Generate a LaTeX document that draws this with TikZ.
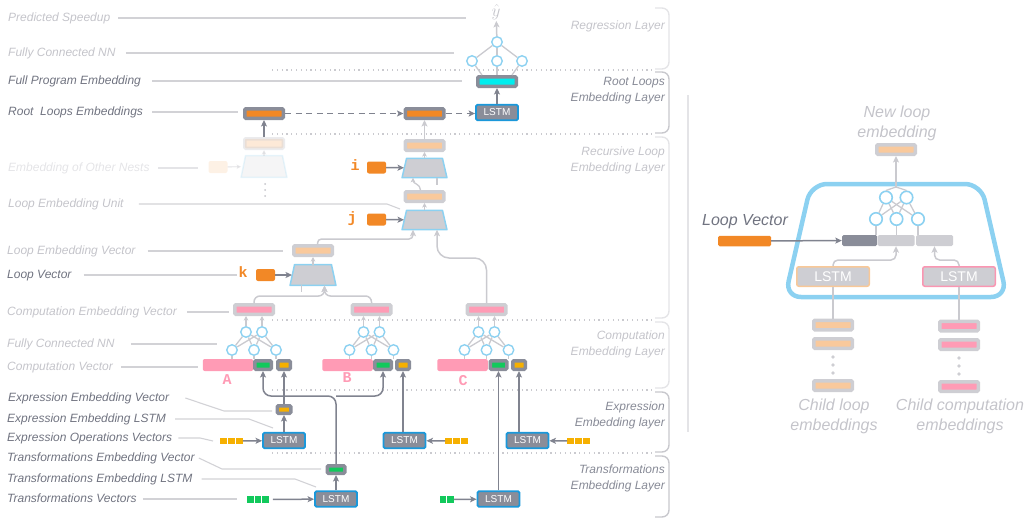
\documentclass[tikz,border=0pt]{standalone}
\usepackage{fontspec}
\setmainfont{Liberation Sans}
\setmonofont{Liberation Mono}
\usetikzlibrary{arrows.meta}

\definecolor{boxdark}{RGB}{138,141,153}
\definecolor{boxlight}{RGB}{206,206,211}
\definecolor{vecorange}{RGB}{242,136,38}
\definecolor{vecpeach}{RGB}{249,201,156}
\definecolor{vecpink}{RGB}{255,155,181}
\definecolor{vecgreen}{RGB}{18,201,92}
\definecolor{vecyellow}{RGB}{246,176,0}
\definecolor{veccyan}{RGB}{0,238,238}
\definecolor{lstmblue}{RGB}{27,152,218}
\definecolor{nnblue}{RGB}{140,209,241}
\definecolor{txtdark}{RGB}{112,115,128}
\definecolor{txtmid}{RGB}{135,138,150}
\definecolor{txtlight}{RGB}{196,196,202}
\definecolor{txtfaint}{RGB}{228,228,231}
\definecolor{leadgray}{RGB}{210,210,214}
\definecolor{arrdark}{RGB}{128,131,143}
\definecolor{arrlight}{RGB}{202,202,207}
\definecolor{brkfaint}{RGB}{228,228,231}
\definecolor{brkdark}{RGB}{200,200,205}
\definecolor{lstmpeach}{RGB}{248,200,152}
\definecolor{lstmpink}{RGB}{250,150,178}

\tikzset{
  emb/.style 2 args={draw=#1, fill=#2, line width=3.5pt, rounded corners=1.2pt,
    minimum width=38.5pt, minimum height=9.5pt, inner sep=0pt},
  subvec/.style 2 args={draw=#1, fill=#2, line width=3.5pt, rounded corners=1pt,
    minimum width=16.5pt, minimum height=8.5pt, inner sep=0pt},
  compvec/.style={fill=vecpink, rounded corners=2pt, minimum width=50.5pt,
    minimum height=12pt, inner sep=0pt},
  loopvec/.style={fill=vecorange, rounded corners=2pt, minimum width=19pt,
    minimum height=12pt, inner sep=0pt},
  lstm/.style={draw=lstmblue, fill=boxdark, line width=1.8pt, rounded corners=1.5pt,
    minimum width=42pt, minimum height=15.5pt, inner sep=0pt, text=white,
    font=\fontsize{10}{12}\selectfont},
  ulstm/.style={draw=#1, fill=boxlight, line width=1.5pt, rounded corners=2pt,
    minimum width=72.5pt, minimum height=19.5pt, inner sep=0pt, text=white,
    font=\fontsize{14}{14}\selectfont},
  neuron/.style={circle, draw=nnblue, fill=white, line width=1.4pt,
    minimum size=10.5pt, inner sep=0pt},
  unit/.style={minimum width=44.5pt, minimum height=19pt, inner sep=0pt},
  unitline/.style={draw=nnblue, fill=boxlight, line width=1.5pt, line join=round},
  opsq/.style={fill=#1, minimum size=6.5pt, inner sep=0pt},
  lbl/.style={anchor=west, inner sep=0pt, text height=8.6pt, text depth=2.5pt,
    font=\fontsize{12}{14}\selectfont\itshape, text=#1},
  lyr/.style={anchor=east, align=right, inner sep=0pt,
    font=\fontsize{12}{16}\selectfont\itshape, text=#1},
  big/.style={align=center, inner sep=0pt,
    font=\fontsize{16}{20}\selectfont\itshape, text=#1},
  ord/.style={inner sep=0pt, text height=9pt, text depth=2.5pt,
    font=\ttfamily\bfseries\fontsize{15}{15}\selectfont, text=#1},
  lead/.style={draw=leadgray, line width=1.1pt},
  lline/.style={draw=arrlight, line width=1.3pt},
  darr/.style={draw=arrdark, line width=1.5pt, -{Stealth[length=6.5pt,width=6pt,inset=1.5pt]}},
  larr/.style={draw=arrlight, line width=1.5pt, -{Stealth[length=6.5pt,width=6pt,inset=1.5pt]}},
  sarr/.style={draw=arrlight, line width=1.3pt, -{Stealth[length=4.5pt,width=4.5pt,inset=1pt]}},
  sep/.style={draw=arrlight, line width=1.2pt, dash pattern=on 1.2pt off 3.6pt},
  brk/.style={draw=#1, line width=1.4pt, rounded corners=7pt},
}

\begin{document}
\begin{tikzpicture}[x=1pt,y=-1pt]
\useasboundingbox (0,0) rectangle (1033,519);

% layers
\foreach \y in {70,134,320,390,453}
  \draw[sep] (272,\y) -- (655,\y);
\draw[brk=brkfaint] (655,8) -- (669,8) -- (669,69) -- (655,69);
\draw[brk=brkdark] (655,72) -- (669,72) -- (669,133) -- (655,133);
\draw[brk=brkfaint] (655,137) -- (669,137) -- (669,318) -- (655,318);
\draw[brk=brkfaint] (655,322) -- (669,322) -- (669,388) -- (655,388);
\draw[brk=brkdark] (655,392) -- (669,392) -- (669,452) -- (655,452);
\draw[brk=brkdark] (655,456) -- (669,456) -- (669,517) -- (655,517);
\draw[draw=brkfaint, line width=1.2pt] (688,95) -- (688,432);

\node[lyr=txtlight] (lreg) at (665,26) {Regression Layer};
\node[lyr=txtmid] (lroot) at (665,91) {Root Loops\\Embedding Layer};
\node[lyr=txtlight] (lrec) at (665,160) {Recursive Loop\\Embedding Layer};
\node[lyr=txtlight] (lcomp) at (665,344) {Computation\\Embedding Layer};
\node[lyr=txtmid] (lexpr) at (665,415) {Expression\\Embedding layer};
\node[lyr=txtmid] (ltrans) at (665,478) {Transformations\\Embedding Layer};

% labels on the left
\node[lbl=txtlight] (tps) at (8,18) {Predicted Speedup};
\node[lbl=txtlight] (tfc) at (8,53) {Fully Connected NN};
\node[lbl=txtdark] (tfpe) at (8,81) {Full Program Embedding};
\node[lbl=txtdark] (trle) at (8,112) {Root\ \ Loops Embeddings};
\node[lbl=txtfaint] (teon) at (8,168) {Embedding of Other Nests};
\node[lbl=txtlight] (tleu) at (8,204) {Loop Embedding Unit};
\node[lbl=txtlight] (tlev) at (7,251) {Loop Embedding Vector};
\node[lbl=txtdark] (tlv) at (7,275) {Loop Vector};
\node[lbl=txtlight] (tcev) at (7,312) {Computation Embedding Vector};
\node[lbl=txtlight] (tcfc) at (7,344) {Fully Connected NN};
\node[lbl=txtlight] (tcv) at (7,367) {Computation Vector};
\node[lbl=txtdark] (teev) at (8,398) {Expression Embedding Vector};
\node[lbl=txtdark] (teel) at (7,419) {Expression Embedding LSTM};
\node[lbl=txtdark] (teov) at (7,438) {Expression Operations Vectors};
\node[lbl=txtdark] (ttev) at (7,458) {Transformations Embedding Vector};
\node[lbl=txtdark] (ttel) at (7,479) {Transformations Embedding LSTM};
\node[lbl=txtdark] (ttv) at (7,499) {Transformations Vectors};

\draw[lead] ([xshift=8pt]tps.east) -- (466,18);
\draw[lead] ([xshift=10pt]tfc.east) -- (454,53);
\draw[lead] ([xshift=11pt]tfpe.east) -- (462,81);
\draw[lead] ([xshift=9pt]trle.east) -- (238,112);
\draw[lead, draw=txtfaint] ([xshift=8pt]teon.east) -- (198,168);
\draw[lead] ([xshift=15pt]tleu.east) -- (387,204) -- (400,209);
\draw[lead] ([xshift=12pt]tlev.east) -- (283,251);
\draw[lead] ([xshift=12pt]tlv.east) -- (237,275);
\draw[lead] ([xshift=10pt]tcev.east) -- (229,312);
\draw[lead] ([xshift=16pt]tcfc.east) -- (217,344);
\draw[lead] ([xshift=8pt]tcv.east) -- (198,367);
\draw[lead] ([xshift=16pt]teev.east) -- (224,411) -- (272,411);
\draw[lead] ([xshift=9pt]teel.east) -- (249,419) -- (273,428);
\draw[lead] ([xshift=6pt]teov.east) -- (200,438) -- (213,441);
\draw[lead] ([xshift=4pt]ttev.east) -- (222,469) -- (321,469);
\draw[lead] ([xshift=9pt]ttel.east) -- (295,479) -- (316,487);
\draw[lead] ([xshift=6pt]ttv.east) -- (237,499);

% regression layer
\node[inner sep=1pt, text=txtlight, font=\fontsize{18}{18}\selectfont] (yhat) at (496,12) {$\hat{y}$};
\node[neuron] (r0) at (497,42) {};
\node[neuron] (r1) at (472,61) {};
\node[neuron] (r2) at (497,61) {};
\node[neuron] (r3) at (522,61) {};
\foreach \n in {r1,r2,r3} \draw[lline] (\n) -- (r0);
\draw[larr] (r0) -- (yhat);

% root loops
\node[emb={boxdark}{veccyan}] (fpe) at (497,81.5) {};
\draw[lline] (r1) -- ([xshift=6pt]fpe.north west);
\draw[lline] (r2) -- (fpe);
\draw[lline] (r3) -- ([xshift=-6pt]fpe.north east);
\node[lstm] (rlstm) at (497,112.5) {LSTM};
\draw[darr] (rlstm) -- (fpe);
\node[emb={boxdark}{vecorange}] (root1) at (264,113.5) {};
\node[emb={boxdark}{vecorange}] (root2) at (424.5,113.5) {};
\draw[darr, line width=1.8pt, dash pattern=on 6pt off 4.5pt] (root1) -- (root2);
\draw[darr, line width=1.8pt, dash pattern=on 6pt off 4.5pt] (root2.east) -- (root2.east -| rlstm.west);

% other nests
\node[emb={boxlight}{vecpeach}, opacity=0.4] (nestout) at (264,143.5) {};
\node[unit, minimum width=45.5pt, minimum height=21.5pt] (nest) at (264,166.5) {};
\filldraw[unitline, opacity=0.2] (nest.south west) -- (nest.south east)
  -- ([xshift=-4.5pt]nest.north east) -- ([xshift=4.5pt]nest.north west) -- cycle;
\node[loopvec, opacity=0.12] (vnest) at (218,167) {};
\draw[sarr, opacity=0.35] (vnest) -- (nest);
\draw[sarr, opacity=0.35] (nest) -- (nestout);
\draw[darr] (nestout) -- (root1);
\foreach \y in {184,190,196} \fill[txtlight] (265,\y) circle (1pt);

% recursive loop embedding
\node[emb={boxlight}{vecpeach}] (iout) at (424.5,145.5) {};
\node[unit] (trapi) at (424.5,168) {};
\node[emb={boxlight}{vecpeach}] (jout) at (424.5,196.5) {};
\node[unit] (trapj) at (424.5,220) {};
\node[emb={boxlight}{vecpeach}] (kout) at (313,250.5) {};
\node[unit, minimum width=45.5pt, minimum height=20.5pt] (trapk) at (313,275) {};
\foreach \u in {trapi,trapj,trapk}
  \filldraw[unitline] (\u.south west) -- (\u.south east)
    -- ([xshift=-4.5pt]\u.north east) -- ([xshift=4.5pt]\u.north west) -- cycle;
\node[loopvec] (vi) at (376.5,167.5) {};
\node[loopvec] (vj) at (376.5,219.5) {};
\node[loopvec] (vk) at (265.5,275) {};
\node[ord=vecorange] (li) at (355,167) {i};
\node[ord=vecorange] (lj) at (352,219) {j};
\node[ord=vecorange] (lk) at (243,274) {k};
\draw[darr, shorten >=-2pt] (vi) -- (trapi);
\draw[darr, shorten >=-2pt] (vj) -- (trapj);
\draw[darr, shorten >=-2pt] (vk) -- (trapk);
\draw[larr] (iout) -- (root2);
\draw[sarr] (trapi) -- (iout);
\draw[sarr] (trapj) -- (jout);
\draw[sarr] (trapk) -- (kout);
\draw[sarr] ([xshift=-4pt]jout.north) .. controls +(0,-6) and +(0,6) .. ([xshift=-11.5pt]trapi.south);
\draw[lline] ([xshift=12.5pt]trapi.south) -- ++(0,7);
\draw[lline] ([xshift=-11.5pt]trapk.south) -- ++(0,7);

% computation embedding
\node[emb={boxlight}{vecpink}] (acomp) at (254,309.5) {};
\node[emb={boxlight}{vecpink}] (bcomp) at (371.5,309.5) {};
\node[emb={boxlight}{vecpink}] (ccomp) at (486.5,309.5) {};
\coordinate (kmerge) at (324.5,296);
\coordinate (kin) at ([xshift=11.5pt]trapk.south);
\draw[larr, rounded corners=6pt] (acomp.north) |- (kmerge) -- (kin);
\draw[larr, rounded corners=6pt] (bcomp.north) |- (kmerge) -- (kin);
\coordinate (jmerge) at (437,258);
\coordinate (jin) at ([xshift=12.5pt]trapj.south);
\draw[larr, rounded corners=12pt] (ccomp.north) |- (jmerge) -- (jin);
\coordinate (jmerge2) at (413,239);
\coordinate (jin2) at ([xshift=-11.5pt]trapj.south);
\draw[larr, rounded corners=4pt] ([xshift=4.5pt]kout.north) |- (jmerge2) -- (jin2);

\node[compvec] (apink) at (228,365) {};
\node[subvec={boxdark}{vecgreen}] (agreen) at (263,365) {};
\node[subvec={boxdark}{vecyellow}, minimum width=12.5pt] (ayellow) at (284,365) {};
\node[compvec] (bpink) at (347.5,365) {};
\node[subvec={boxdark}{vecgreen}] (bgreen) at (383,365) {};
\node[subvec={boxdark}{vecyellow}, minimum width=12.5pt] (byellow) at (403,365) {};
\node[compvec] (cpink) at (462.5,365) {};
\node[subvec={boxdark}{vecgreen}] (cgreen) at (498.5,365) {};
\node[subvec={boxdark}{vecyellow}, minimum width=12.5pt] (cyellow) at (519,365) {};
\node[ord=vecpink] (la) at (227,381) {A};
\node[ord=vecpink] (lb) at (347,379) {B};
\node[ord=vecpink] (lc) at (463,382) {C};

\foreach \p/\x in {a/254,b/371.5,c/486.5}{
  \node[neuron] (\p t1) at (\x-8,332) {};
  \node[neuron] (\p t2) at (\x+8,332) {};
  \foreach \bi/\dx in {1/-22,2/0,3/22}
    \node[neuron] (\p b\bi) at (\x+\dx,350) {};
  \foreach \bi in {1,2,3}{
    \draw[lline] (\p b\bi) -- (\p t1);
    \draw[lline] (\p b\bi) -- (\p t2);
    \draw[lline] (\p b\bi.south) -- (\p b\bi.south |- \p pink.north);
  }
  \draw[sarr] (\p t1.north) -- (\p t1.north |- \p comp.south);
  \draw[sarr] (\p t2.north) -- (\p t2.north |- \p comp.south);
}

% expression embedding
\node[subvec={boxdark}{vecyellow}, minimum width=13.5pt, minimum height=7.5pt] (aexp) at (284,409.5) {};
\node[lstm] (alstm) at (284,440.5) {LSTM};
\node[lstm] (blstm) at (404.5,440.5) {LSTM};
\node[lstm] (clstm) at (527.5,440.5) {LSTM};
\foreach \i in {0,1,2}{
  \node[opsq=vecyellow] (aop\i) at (223.5+8*\i,441) {};
  \node[opsq=vecyellow] (bop\i) at (448.5+8*\i,441) {};
  \node[opsq=vecyellow] (cop\i) at (570.5+8*\i,441) {};
}
\draw[darr] (aop2) -- (alstm);
\draw[darr] (bop0) -- (blstm);
\draw[darr] (cop0) -- (clstm);
\draw[darr] (alstm) -- (aexp);
\draw[darr] (aexp) -- (ayellow);
\draw[darr] (blstm.north -| byellow) -- (byellow);
\draw[darr] (clstm.north -| cyellow) -- (cyellow);

% transformations embedding
\node[subvec={boxdark}{vecgreen}, minimum width=17.5pt, minimum height=7.5pt] (tvec) at (336,469.5) {};
\node[lstm] (tlstm1) at (336,499) {LSTM};
\node[lstm] (tlstm2) at (498.5,499) {LSTM};
\foreach \i in {0,1,2} \node[opsq=vecgreen] (tap\i) at (250.5+7.5*\i,499.5) {};
\foreach \i in {0,1} \node[opsq=vecgreen] (tcp\i) at (443+7.5*\i,499.5) {};
\draw[darr, shorten <=4pt] (tap2) -- (tlstm1);
\draw[darr] (tcp1) -- (tlstm2);
\draw[darr] (tlstm1) -- (tvec);
\draw[darr] (tlstm2) -- (cgreen);
\coordinate (tsplit) at (336,396);
\draw[darr, rounded corners=8pt] (tvec) -- (tsplit) -| (agreen);
\draw[darr, rounded corners=8pt] (tsplit) -| (bgreen);

% loop embedding unit, detail
\draw[draw=nnblue, line width=4.5pt, rounded corners=16pt]
  (811,184) -- (981,184) -- (1007,297) -- (785,297) -- cycle;
\node[big=txtlight] (tnew) at (897,123) {New loop\\embedding};
\node[emb={boxlight}{vecpeach}] (newemb) at (896,149.5) {};
\node[neuron, minimum size=12.5pt, line width=1.6pt] (u1) at (886,197.5) {};
\node[neuron, minimum size=12.5pt, line width=1.6pt] (u2) at (906.5,197.5) {};
\node[neuron, minimum size=12.5pt, line width=1.6pt] (u3) at (876,219) {};
\node[neuron, minimum size=12.5pt, line width=1.6pt] (u4) at (896.5,219) {};
\node[neuron, minimum size=12.5pt, line width=1.6pt] (u5) at (918,219) {};
\node[fill=boxdark, rounded corners=1.5pt, minimum width=35pt, minimum height=11pt, inner sep=0pt] (uvloop) at (859.5,240.5) {};
\node[fill=boxlight, rounded corners=1.5pt, minimum width=37pt, minimum height=11pt, inner sep=0pt] (uvl) at (896,240.5) {};
\node[fill=boxlight, rounded corners=1.5pt, minimum width=37pt, minimum height=11pt, inner sep=0pt] (uvc) at (934.5,240.5) {};
\foreach \b in {u3,u4,u5}{
  \draw[lline] (\b) -- (u1);
  \draw[lline] (\b) -- (u2);
  \draw[lline] (\b.south) -- (\b.south |- uvl.north);
}
\coordinate (uout) at (896,187);
\draw[lline] (u1.north) -- (uout);
\draw[lline] (u2.north) -- (uout);
\draw[larr] (uout) -- (newemb);

\node[big=txtdark] (tuv) at (745,222) {Loop Vector};
\node[fill=vecorange, rounded corners=1.5pt, minimum width=53pt, minimum height=10.5pt, inner sep=0pt] (uorange) at (744.5,241) {};
\draw[darr] (uorange) -- (uvloop);

\node[ulstm=lstmpeach] (ulstml) at (833,276.5) {LSTM};
\node[ulstm=lstmpink] (ulstmr) at (959,276.5) {LSTM};
\draw[larr, rounded corners=5pt] (ulstml.north) -- ++(0,-6) -| (uvl);
\draw[larr, rounded corners=5pt] (ulstmr.north) -- ++(0,-6) -| (uvc);

\node[emb={boxlight}{vecpeach}] (cl1) at (833,325) {};
\node[emb={boxlight}{vecpeach}] (cl2) at (833,343.5) {};
\node[emb={boxlight}{vecpeach}] (cl3) at (833,385.5) {};
\node[emb={boxlight}{vecpink}] (cc1) at (959,326) {};
\node[emb={boxlight}{vecpink}] (cc2) at (959,344.5) {};
\node[emb={boxlight}{vecpink}] (cc3) at (959,386.5) {};
\draw[lline] (ulstml) -- (cl1);
\draw[lline] (ulstmr) -- (cc1);
\foreach \y in {357,365,373} \fill[boxlight] (833,\y) circle (1.8pt);
\foreach \y in {358,366,374} \fill[boxlight] (959,\y) circle (1.8pt);
\node[big=txtlight] (tcl) at (834,416) {Child loop\\embeddings};
\node[big=txtlight] (tcc) at (960,416) {Child computation\\embeddings};
\end{tikzpicture}
\end{document}
